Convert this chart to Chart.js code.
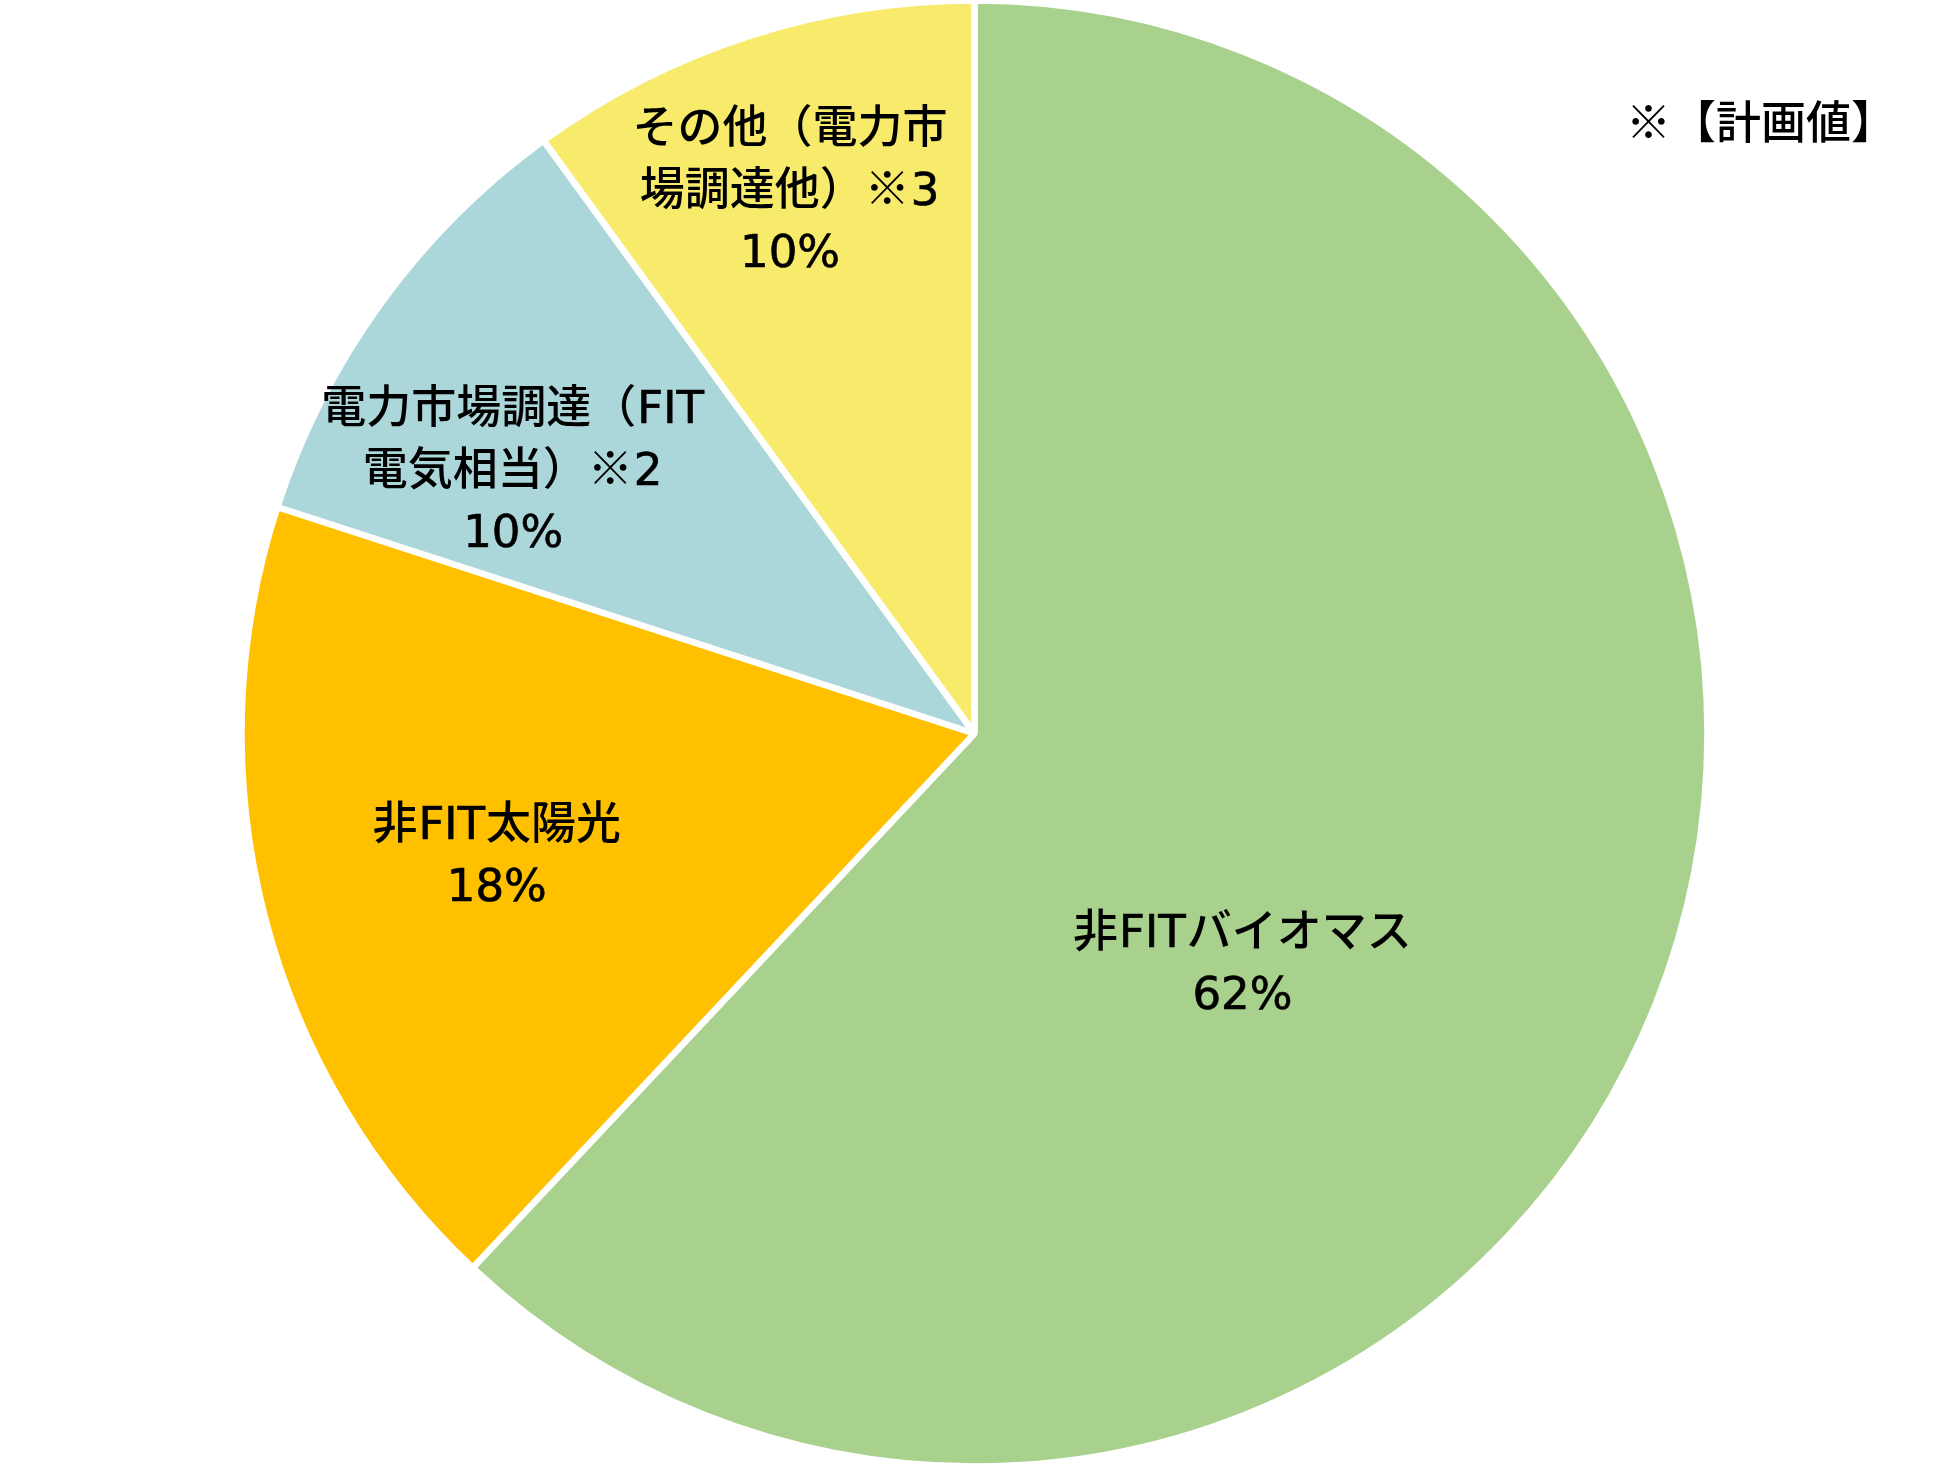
<!DOCTYPE html>
<html lang="ja">
<head>
<meta charset="utf-8">
<script src="https://cdn.jsdelivr.net/npm/chart.js@4.4.1/dist/chart.umd.min.js"></script>
<style>
  html, body { margin: 0; padding: 0; background: #ffffff; }
  #wrap { width: 1949px; height: 1469px; position: relative; }
</style>
</head>
<body>
<div id="wrap"><canvas id="chartPie"></canvas></div>
<script>
/* data */
const categories = [
  ["非FITバイオマス"],
  ["非FIT太陽光"],
  ["電力市場調達（FIT", "電気相当）※2"],
  ["その他（電力市", "場調達他）※3"]
];
const shares = [62, 18, 10, 10];
const noteText = "※【計画値】";

/* look */
const sliceColors = ["#A9D18E", "#FFC000", "#ABD7DA", "#F8EB6B"];
const labelRadius = [0.48, 0.672, 0.726, 0.785];
const labelTurn = [18.8, 0.3, -6.1, -0.7]; // degrees off the slice middle
const cjkFont = "500 45px 'Noto Sans CJK JP', sans-serif";
const latinFont = "45px 'DejaVu Sans', sans-serif";
const lineGap = 62;

// latin letters and digits in a Verdana-like face, the rest in Noto CJK
function drawMixed(ctx, text, cx, cy) {
  const parts = text.split(/([A-Za-z0-9%]+)/).filter(function (s) { return s.length > 0; });
  const runs = parts.map(function (s) {
    const latin = /^[A-Za-z0-9%]+$/.test(s);
    ctx.font = latin ? latinFont : cjkFont;
    return { s: s, latin: latin, w: ctx.measureText(s).width + (latin ? 2 : 0) };
  });
  const total = runs.reduce(function (a, r) { return a + r.w; }, 0);
  ctx.font = cjkFont;
  const m = ctx.measureText("電");
  const base = cy + (m.actualBoundingBoxAscent - m.actualBoundingBoxDescent) / 2;
  let x = cx - total / 2;
  runs.forEach(function (r) {
    if (r.latin) {
      // a touch heavier, closer to the medium weight of the original
      ctx.font = latinFont;
      ctx.fillText(r.s, x + 1, base);
      ctx.lineWidth = 0.7;
      ctx.strokeText(r.s, x + 1, base);
    } else {
      ctx.font = cjkFont;
      ctx.fillText(r.s, x, base);
    }
    x += r.w;
  });
}

/* start label plugin */
const sliceLabels = {
  id: "sliceLabels",
  afterDatasetsDraw(chart) {
    const ctx = chart.ctx;
    const meta = chart.getDatasetMeta(0);
    ctx.save();
    ctx.fillStyle = "#000000";
    ctx.strokeStyle = "#000000";
    ctx.textAlign = "left";
    ctx.textBaseline = "alphabetic";
    meta.data.forEach(function (arc, i) {
      const p = arc.getProps(["x", "y", "startAngle", "endAngle", "outerRadius"], true);
      const mid = (p.startAngle + p.endAngle) / 2 + labelTurn[i] * Math.PI / 180;
      const r = p.outerRadius * labelRadius[i];
      const cx = p.x + Math.cos(mid) * r;
      const cy = p.y + Math.sin(mid) * r;
      const lines = categories[i].concat([shares[i] + "%"]);
      const top = cy - (lines.length - 1) * lineGap / 2;
      lines.forEach(function (t, k) {
        drawMixed(ctx, t, cx, top + k * lineGap);
      });
    });
    ctx.restore();
  }
};

const planNote = {
  id: "planNote",
  afterDraw(chart) {
    const ctx = chart.ctx;
    ctx.save();
    ctx.fillStyle = "#000000";
    ctx.textAlign = "left";
    ctx.textBaseline = "alphabetic";
    drawMixed(ctx, noteText, 1761, 122);
    ctx.restore();
  }
};
/* end label plugin */

new Chart(document.getElementById("chartPie"), {
  type: "pie",
  data: {
    labels: categories,
    datasets: [
      {
        data: shares,
        backgroundColor: sliceColors,
        borderColor: "#ffffff",
        borderWidth: 6.5,
        radius: 733,
      },
    ],
  },
  options: {
    responsive: true,
    maintainAspectRatio: false,
    devicePixelRatio: 1,
    animation: false,
    layout: { padding: { top: 0, bottom: 2, left: 0, right: 0 } },
    plugins: {
      legend: { display: false },
      tooltip: { enabled: false },
    },
  },
  plugins: [sliceLabels, planNote],
});
</script>
</body>
</html>
